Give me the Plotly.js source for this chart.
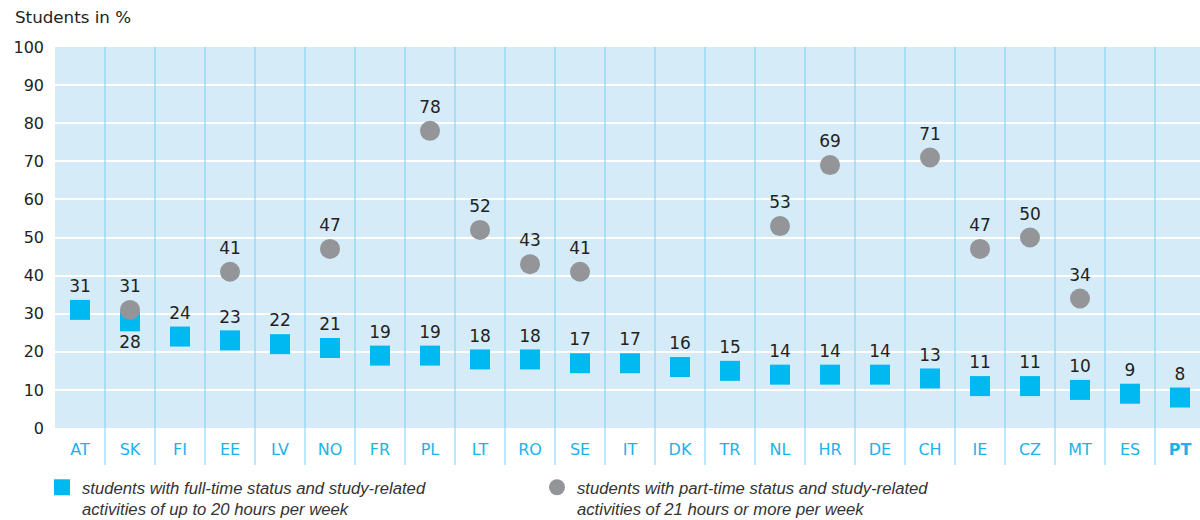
<!DOCTYPE html>
<html>
<head>
<meta charset="utf-8">
<script src="https://cdn.plot.ly/plotly-3.0.1.min.js"></script>
<style>html,body{margin:0;padding:0;background:#fff;}#chart{width:1200px;height:520px;}</style>
</head>
<body>
<div id="chart"></div>
<script>
const categories = ["AT","SK","FI","EE","LV","NO","FR","PL","LT","RO","SE","IT","DK","TR","NL","HR","DE","CH","IE","CZ","MT","ES","PT"];
const fullTime = [31,28,24,23,22,21,19,19,18,18,17,17,16,15,14,14,14,13,11,11,10,9,8];
const partTime = [null,31,null,41,null,47,null,78,52,43,41,null,null,null,53,69,null,71,47,50,34,null,null];
const fullTimeName = "students with full-time status and study-related<br>activities of up to 20 hours per week";
const partTimeName = "students with part-time status and study-related<br>activities of 21 hours or more per week";
const yTicks = [0,10,20,30,40,50,60,70,80,90,100];

const numFont = {family: "DejaVu Sans", size: 17, color: "#222222"};

// full-time labels go below when a part-time circle sits close above
const ftTextPos = fullTime.map((v, i) => (partTime[i] !== null && Math.abs(partTime[i] - v) < 6) ? "bottom center" : "top center");

const traceFull = {
  type: "scatter", mode: "markers+text",
  x: categories, y: fullTime,
  text: fullTime.map(String),
  textposition: ftTextPos,
  textfont: numFont,
  marker: {symbol: "square", size: 20, color: "#00b9f0"},
  name: fullTimeName,
  hoverinfo: "x+y",
  cliponaxis: false
};
const tracePart = {
  type: "scatter", mode: "markers+text",
  x: categories, y: partTime,
  text: partTime.map(v => v === null ? "" : String(v)),
  textposition: "top center",
  textfont: numFont,
  marker: {symbol: "circle", size: 20, color: "#939598"},
  name: partTimeName,
  hoverinfo: "x+y",
  cliponaxis: false
};

// vertical separators between categories, extending into label band
const shapes = categories.slice(0, -1).map((c, i) => ({
  type: "line", xref: "x", yref: "paper",
  x0: i + 0.5, x1: i + 0.5, y0: -0.097, y1: 1,
  line: {color: "#78d1f5", width: 1}, layer: "above"
}));

const layout = {
  width: 1200, height: 520,
  margin: {l: 55, r: 0, t: 47, b: 92, autoexpand: false},
  paper_bgcolor: "#ffffff",
  plot_bgcolor: "#d5ecf8",
  font: {family: "DejaVu Sans", size: 16, color: "#222222"},
  xaxis: {
    type: "category",
    range: [-0.5, 22.4],
    tickvals: categories,
    ticktext: categories.map((c, i) => i === categories.length - 1 ? "<b>" + c + "</b>" : c),
    tickfont: {family: "DejaVu Sans", size: 16, color: "#1cb2ea"},
    showgrid: false, zeroline: false, showline: false,
    ticks: "", ticklabelstandoff: 10
  },
  yaxis: {
    range: [0, 100],
    tickvals: yTicks,
    tickfont: {family: "DejaVu Sans", size: 16, color: "#222222"},
    showgrid: true, gridcolor: "#ffffff", gridwidth: 2,
    zeroline: false, showline: false,
    ticks: "", ticklabelstandoff: 10
  },
  shapes: shapes,
  annotations: [{
    text: "Students in %", xref: "paper", yref: "paper",
    x: (13 - 55) / 1145, y: 1 + 30 / 381, xanchor: "left", yanchor: "middle",
    showarrow: false, font: {family: "DejaVu Sans", size: 16.7, color: "#222222"}
  }],
  showlegend: true,
  legend: {
    orientation: "h", x: -13 / 1145, y: -0.110, xanchor: "left", yanchor: "top",
    font: {family: "Liberation Sans", size: 16.7, color: "#333333", style: "italic"},
    bgcolor: "rgba(0,0,0,0)",
    itemwidth: 30, valign: "top",
    entrywidth: 450, entrywidthmode: "pixels",
    itemclick: false, itemdoubleclick: false
  }
};

Plotly.newPlot("chart", [traceFull, tracePart], layout, {displayModeBar: false, staticPlot: true});
</script>
</body>
</html>
